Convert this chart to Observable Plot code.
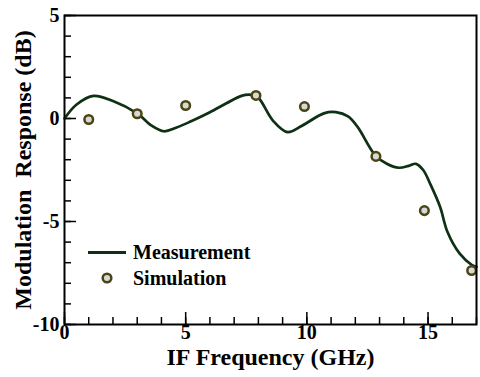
<!DOCTYPE html>
<html>
<head>
<meta charset="utf-8">
<script src="https://cdn.jsdelivr.net/npm/d3@7"></script>
<script src="https://cdn.jsdelivr.net/npm/@observablehq/plot@0.6"></script>
<style>
  html, body { margin: 0; padding: 0; background: #fff; }
  #wrap { position: relative; width: 480px; height: 377px; }
  #legend { position: absolute; left: 0; top: 0; pointer-events: none; }
  text { font-family: "Liberation Serif", "Times New Roman", serif; font-weight: bold; }
</style>
</head>
<body>
<div id="wrap"></div>
<script>
// Measurement curve (IF frequency in GHz, response in dB)
const measFreq = [0, 0.5, 1.2, 2, 3, 3.6, 4.1, 4.6, 5.2, 6, 6.7, 7.3, 7.7, 8.0, 8.6, 9.2, 9.8, 10.7, 11.2, 11.7, 12.1, 12.8, 13.3, 13.8, 14.2, 14.5, 14.8, 15.1, 15.5, 15.8, 16.3, 16.8, 17];
const measResp = [0, 0.68, 1.1, 0.85, 0.25, -0.35, -0.62, -0.45, -0.15, 0.3, 0.75, 1.1, 1.15, 1.0, -0.1, -0.66, -0.35, 0.25, 0.31, 0.1, -0.42, -1.75, -2.2, -2.39, -2.3, -2.2, -2.5, -3.2, -4.3, -5.5, -6.55, -7.1, -7.2];
// Simulation points
const simFreq = [1, 3, 5, 7.9, 9.9, 12.85, 14.85, 16.8];
const simResp = [-0.05, 0.23, 0.63, 1.12, 0.58, -1.84, -4.47, -7.38];
// Tick labels
const xTickLabels = [0, 5, 10, 15];
const yTickLabels = [5, 0, -5, -10];
const xMinorTicks = d3.range(0, 18, 1);
const yMinorTicks = d3.range(-10, 6, 1);
const xLabel = "IF Frequency (GHz)";
const yLabel = "Modulation\u00a0\u00a0Response (dB)";
const seriesNames = ["Measurement", "Simulation"];

const meas = measFreq.map((f, i) => ({f, v: measResp[i]}));
const sim = simFreq.map((f, i) => ({f, v: simResp[i]}));

const lineColor = "#0e3015";
const dotStroke = "#4a4613";
const dotFill = "#d8d8d8";
const font = "'Liberation Serif', 'Times New Roman', serif";

const W = 480, H = 377, mL = 64, mR = 4, mT = 15, mB = 53;
const fw = W - mL - mR, fh = H - mT - mB;

const chart = Plot.plot({
  width: W, height: H,
  marginLeft: mL, marginRight: mR, marginTop: mT, marginBottom: mB,
  style: {fontFamily: font, fontWeight: "bold", color: "black", background: "white", overflow: "visible"},
  x: {domain: [0, 17]},
  y: {domain: [-10, 5]},
  marks: [
    // minor ticks (inward)
    Plot.tickX(xMinorTicks, {x: d => d, insetTop: fh - 7, stroke: "black", strokeWidth: 1.5}),
    Plot.tickY(yMinorTicks, {y: d => d, insetRight: fw - 7, stroke: "black", strokeWidth: 1.5}),
    // major ticks (inward)
    Plot.tickX(xTickLabels, {x: d => d, insetTop: fh - 12, stroke: "black", strokeWidth: 1.5}),
    Plot.tickY(yTickLabels, {y: d => d, insetRight: fw - 12, stroke: "black", strokeWidth: 1.5}),
    Plot.axisX({ticks: xTickLabels, tickSize: 0, tickPadding: 0, fontSize: 20, label: null, tickFormat: d => String(d)}),
    Plot.axisY({ticks: yTickLabels, tickSize: 0, tickPadding: 5, fontSize: 20, label: null, tickFormat: d => String(d)}),
    Plot.text([xLabel], {frameAnchor: "bottom", dy: 40, fontSize: 24, fontWeight: "bold", fill: "black", textAnchor: "middle"}),
    Plot.text([yLabel], {frameAnchor: "left", dx: -41, rotate: -90, fontSize: 24, fontWeight: "bold", fill: "black", textAnchor: "middle", lineAnchor: "middle"}),
    Plot.line(meas, {x: "f", y: "v", curve: "catmull-rom", stroke: lineColor, strokeWidth: 2.7}),
    Plot.dot(sim, {x: "f", y: "v", r: 4.3, fill: dotFill, stroke: dotStroke, strokeWidth: 2.5}),
    Plot.frame({stroke: "black", strokeWidth: 2})
  ]
});

const wrap = document.getElementById("wrap");
wrap.appendChild(chart);

// Legend overlay
const leg = d3.select(wrap).append("svg")
  .attr("id", "legend").attr("width", W).attr("height", H);
leg.append("line").attr("x1", 88).attr("x2", 126).attr("y1", 252.5).attr("y2", 252.5)
  .attr("stroke", lineColor).attr("stroke-width", 3);
leg.append("circle").attr("cx", 107).attr("cy", 278).attr("r", 4.3)
  .attr("fill", dotFill).attr("stroke", dotStroke).attr("stroke-width", 2.5);
leg.selectAll("text.lbl").data(seriesNames).join("text")
  .attr("class", "lbl")
  .attr("x", 133).attr("y", (d, i) => 259 + i * 26)
  .attr("font-size", 20).attr("font-weight", "bold").attr("font-family", font)
  .attr("fill", "black").text(d => d);
</script>
</body>
</html>
